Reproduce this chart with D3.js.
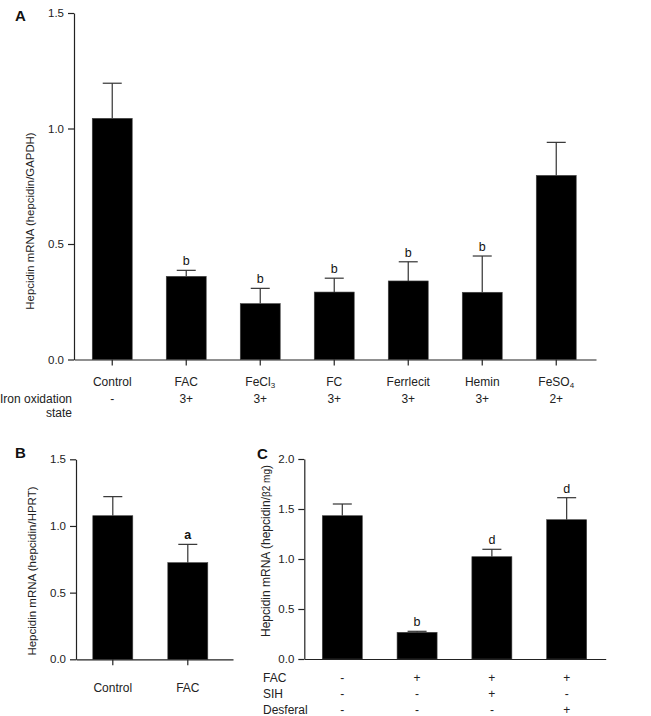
<!DOCTYPE html>
<html><head><meta charset="utf-8">
<script src="https://cdn.jsdelivr.net/npm/d3@7"></script>
<style>
html,body{margin:0;padding:0;background:#fff;}
text{font-family:"Liberation Sans",Arial,sans-serif;}
</style>
</head><body>
<svg id="chart" width="651" height="716"></svg>
<script>
// Panel A
const catsA = ["Control","FAC","FeCl3","FC","Ferrlecit","Hemin","FeSO4"];
const oxA   = ["-","3+","3+","3+","3+","3+","2+"];
const meanA = [1.044,0.360,0.242,0.292,0.340,0.291,0.797];
const errA  = [0.152,0.026,0.066,0.060,0.083,0.157,0.143];
const sigA  = ["","b","b","b","b","b",""];
const ticksA = [0,0.5,1.0,1.5];
// Panel B
const catsB = ["Control","FAC"];
const meanB = [1.077,0.725];
const errB  = [0.143,0.137];
const sigB  = ["","a"];
const ticksB = [0,0.5,1.0,1.5];
// Panel C
const groupsC = ["g1","g2","g3","g4"];
const facC  = ["-","+","+","+"];
const sihC  = ["-","-","+","-"];
const desC  = ["-","-","-","+"];
const meanC = [1.433,0.267,1.023,1.393];
const errC  = [0.117,0.010,0.074,0.220];
const sigC  = ["","b","d","d"];
const ticksC = [0,0.5,1.0,1.5,2.0];

const svg = d3.select("#chart");
const AX = "#222";

function yAxis(g, y, ticks){
  g.call(d3.axisLeft(y).tickValues(ticks).tickFormat(d3.format(".1f")).tickSize(6).tickSizeOuter(0).tickPadding(4));
  g.selectAll("path,line").attr("stroke",AX).attr("stroke-width",1.2);
  g.selectAll("text").attr("font-size",11.5).attr("fill",AX).attr("font-family","Liberation Sans, Arial, sans-serif");
}
function xAxis(g, x, tickLen){
  g.call(d3.axisBottom(x).tickSize(tickLen).tickSizeOuter(0).tickFormat(""));
  g.selectAll("path,line").attr("stroke",AX).attr("stroke-width",1.2);
  if(tickLen===0) g.selectAll(".tick line").remove();
}
function bars(g, x, y, cats, means, errs, sigs, sigBold){
  const data = cats.map((c,i)=>({c, m:means[i], e:errs[i], s:sigs[i]}));
  const bw = x.bandwidth();
  g.selectAll("line.err").data(data).join("line").attr("class","err")
    .attr("x1",d=>x(d.c)+bw/2).attr("x2",d=>x(d.c)+bw/2)
    .attr("y1",d=>y(d.m)).attr("y2",d=>y(d.m+d.e))
    .attr("stroke","#333").attr("stroke-width",1.2);
  g.selectAll("line.cap").data(data).join("line").attr("class","cap")
    .attr("x1",d=>x(d.c)+bw/2-9.5).attr("x2",d=>x(d.c)+bw/2+9.5)
    .attr("y1",d=>y(d.m+d.e)).attr("y2",d=>y(d.m+d.e))
    .attr("stroke","#333").attr("stroke-width",1.2);
  g.selectAll("rect.bar").data(data).join("rect").attr("class","bar")
    .attr("x",d=>x(d.c)).attr("width",bw)
    .attr("y",d=>y(d.m)).attr("height",d=>y(0)-y(d.m))
    .attr("fill","#000").attr("stroke","#444").attr("stroke-width",0.6);
  g.selectAll("text.sig").data(data.filter(d=>d.s)).join("text").attr("class","sig")
    .attr("x",d=>x(d.c)+bw/2).attr("y",d=>y(d.m+d.e)-5)
    .attr("text-anchor","middle").attr("font-size",12.5)
    .attr("font-weight",sigBold?"bold":"normal").attr("fill","#111").text(d=>d.s);
}
function panelLetter(t,x,y){
  svg.append("text").attr("x",x).attr("y",y).attr("font-size",15).attr("font-weight","bold")
    .attr("font-family","Liberation Sans, Arial, sans-serif").attr("fill","#111").text(t);
}
function yLabel(parts, bx, cy, fs){
  const t = svg.append("text").attr("transform",`translate(${bx},${cy}) rotate(-90)`)
    .attr("text-anchor","middle").attr("font-size",fs).attr("fill","#222");
  parts.forEach(p=>{ t.append("tspan").attr("font-size",p.size||fs).text(p.t); });
}
function subLabel(g, name, x, y){
  const t = g.append("text").attr("x",x).attr("y",y).attr("text-anchor","middle")
    .attr("font-size",12).attr("fill","#222");
  const m = name.match(/^(.*?)(\d+)$/);
  if(m && (name==="FeCl3"||name==="FeSO4")){
    t.append("tspan").text(m[1]);
    t.append("tspan").attr("font-size",8).attr("dy",2).text(m[2]);
  } else t.text(name);
}

// ---------- Panel A ----------
const yA = d3.scaleLinear().domain([0,1.5]).range([359.5,13]);
const xA = d3.scaleBand().domain(catsA).range([74,596]).paddingInner(0.46).paddingOuter(0.257).align(0.48);
const gA = svg.append("g");
bars(gA, xA, yA, catsA, meanA, errA, sigA, false);
gA.append("g").attr("transform",`translate(0,${yA(0)})`).call(g=>xAxis(g,xA,6));
gA.append("g").attr("transform",`translate(74,0)`).call(g=>yAxis(g,yA,ticksA));
catsA.forEach((c,i)=>{
  const cx = xA(c)+xA.bandwidth()/2;
  subLabel(gA, c, cx, 386);
  gA.append("text").attr("x",cx).attr("y",403).attr("text-anchor","middle").attr("font-size",12).attr("fill","#222").text(oxA[i]);
});
gA.append("text").attr("x",72).attr("y",403).attr("text-anchor","end").attr("font-size",12).attr("fill","#222").text("Iron oxidation");
gA.append("text").attr("x",72).attr("y",417).attr("text-anchor","end").attr("font-size",12).attr("fill","#222").text("state");
panelLetter("A",15,21);
yLabel([{t:"Hepcidin mRNA (hepcidin/GAPDH)"}], 34, 221, 11.4);

// ---------- Panel B ----------
const yB = d3.scaleLinear().domain([0,1.5]).range([659.3,459.3]);
const xB = d3.scaleBand().domain(catsB).range([76,233]).paddingInner(0.4667).paddingOuter(0.28).align(0.4);
const gB = svg.append("g");
bars(gB, xB, yB, catsB, meanB, errB, sigB, true);
gB.append("g").attr("transform",`translate(0,${yB(0)})`).call(g=>xAxis(g,xB,6));
gB.append("g").attr("transform",`translate(76,0)`).call(g=>yAxis(g,yB,ticksB));
catsB.forEach(c=>{
  gB.append("text").attr("x",xB(c)+xB.bandwidth()/2).attr("y",692).attr("text-anchor","middle").attr("font-size",12).attr("fill","#222").text(c);
});
panelLetter("B",15,458);
yLabel([{t:"Hepcidin mRNA (hepcidin/HPRT)"}], 36, 571, 11.5);

// ---------- Panel C ----------
const yC = d3.scaleLinear().domain([0,2.0]).range([659,459]);
const xC = d3.scaleBand().domain(groupsC).range([304.3,605.7]).paddingInner(0.465).paddingOuter(0.2475).align(0.486);
const gC = svg.append("g");
bars(gC, xC, yC, groupsC, meanC, errC, sigC, false);
gC.append("g").attr("transform",`translate(0,${yC(0)})`).call(g=>xAxis(g,xC,0));
gC.append("g").attr("transform",`translate(304.3,0)`).call(g=>yAxis(g,yC,ticksC));
const rowsC = [["FAC",facC,682],["SIH",sihC,698],["Desferal",desC,714]];
rowsC.forEach(([name,vals,yy])=>{
  gC.append("text").attr("x",263).attr("y",yy).attr("font-size",12).attr("fill","#222").text(name);
  groupsC.forEach((g,i)=>{
    gC.append("text").attr("x",xC(g)+xC.bandwidth()/2).attr("y",yy).attr("text-anchor","middle").attr("font-size",12).attr("fill","#222").text(vals[i]);
  });
});
panelLetter("C",257,459);
yLabel([{t:"Hepcidin mRNA (hepcidin/"},{t:"β2 mg",size:10},{t:")"}], 270, 551, 12);
</script>
</body></html>
